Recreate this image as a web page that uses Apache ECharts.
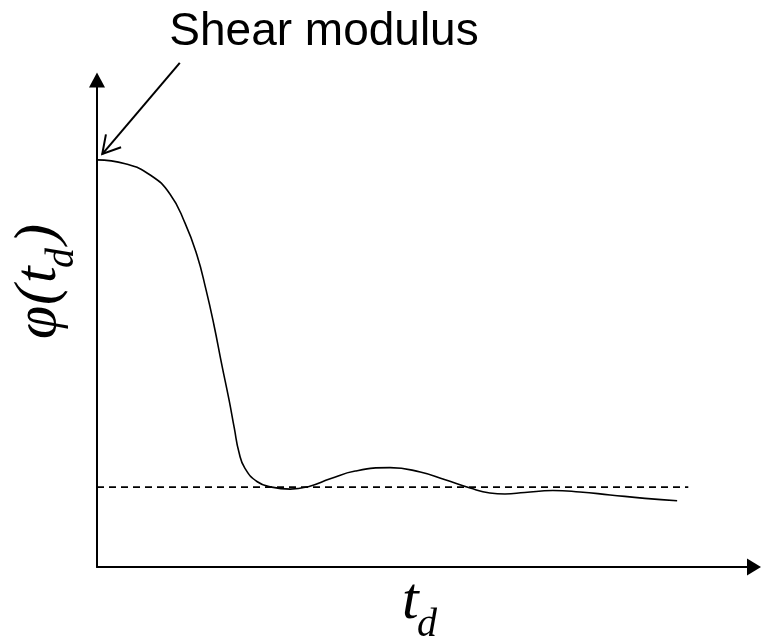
<!DOCTYPE html>
<html>
<head>
<meta charset="utf-8">
<script type="text/javascript" src="https://cdn.jsdelivr.net/npm/echarts@6/dist/echarts.min.js"></script>
<style type="text/css">
html, body {
    margin: 0;
    padding: 0;
    background: #fff;
}
#main {
    width: 761px;
    height: 639px;
}
</style>
</head>
<body>
<div id="main"></div>

<script type="text/javascript">
// t_d values (abscissa) and phi(t_d) values of the relaxation curve
var tValues = [0, 0.43, 0.81, 1.11, 1.34, 1.52, 1.66, 1.78, 1.90, 2.01, 2.09, 2.16, 2.25, 2.44, 2.66,
    2.94, 3.24, 3.55, 3.93, 4.46, 4.92, 5.30, 5.68, 5.98, 6.21, 6.51, 6.94, 7.35, 7.81, 8.34, 8.83];
var phiValues = [0.836, 0.828, 0.805, 0.766, 0.706, 0.641, 0.569, 0.497, 0.415, 0.343, 0.285, 0.236, 0.203, 0.175, 0.164,
    0.160, 0.166, 0.181, 0.197, 0.204, 0.195, 0.179, 0.162, 0.152, 0.150, 0.153, 0.157, 0.154, 0.148, 0.141, 0.136];

// horizontal dashed level
var plateauT = [0, 9.0];
var plateauPhi = 0.164;

// annotation: text and arrow (tail -> tip, data units)
var annotationText = 'Shear modulus';
var arrowTail = [1.26, 1.035];
var arrowTip = [0.08, 0.848];

var curveData = [];
for (var i = 0; i < tValues.length; i++) {
    curveData.push([tValues[i], phiValues[i]]);
}

var myChart = echarts.init(document.getElementById('main'));

var serif = '"Liberation Serif", "DejaVu Serif", serif';

option = {
    animation: false,
    backgroundColor: '#fff',
    grid: {
        left: 97,
        right: 7,
        top: 80,
        bottom: 72
    },
    xAxis: {
        type: 'value',
        min: 0,
        max: 10,
        axisLine: {
            show: true,
            symbol: ['none', 'triangle'],
            symbolSize: [17, 14],
            lineStyle: { color: '#000', width: 2 }
        },
        axisTick: { show: false },
        axisLabel: { show: false },
        splitLine: { show: false }
    },
    yAxis: {
        type: 'value',
        min: 0,
        max: 1,
        axisLine: {
            show: true,
            symbol: ['none', 'triangle'],
            symbolSize: [16, 15],
            lineStyle: { color: '#000', width: 2 }
        },
        axisTick: { show: false },
        axisLabel: { show: false },
        splitLine: { show: false }
    },
    series: [
        {
            name: 'phi',
            type: 'line',
            data: curveData,
            smooth: 0.5,
            showSymbol: false,
            lineStyle: { color: '#000', width: 1.6 }
        },
        {
            name: 'plateau',
            type: 'line',
            data: [[plateauT[0], plateauPhi], [plateauT[1], plateauPhi]],
            showSymbol: false,
            lineStyle: { color: '#000', width: 1.6, type: [7, 5] }
        }
    ]
};
myChart.setOption(option);

// annotation arrow, positioned from data coordinates
var tail = myChart.convertToPixel({ gridIndex: 0 }, arrowTail);
var tip = myChart.convertToPixel({ gridIndex: 0 }, arrowTip);
var ang = Math.atan2(tail[1] - tip[1], tail[0] - tip[0]);
var barbLen = 20, barbAng = 0.52;
var barb1 = [tip[0] + barbLen * Math.cos(ang - barbAng), tip[1] + barbLen * Math.sin(ang - barbAng)];
var barb2 = [tip[0] + barbLen * Math.cos(ang + barbAng), tip[1] + barbLen * Math.sin(ang + barbAng)];

var lineStyle = { stroke: '#000', lineWidth: 2, fill: null };

myChart.setOption({
    graphic: [
        {
            type: 'text',
            x: 324,
            y: 32,
            style: {
                text: annotationText,
                align: 'center',
                verticalAlign: 'middle',
                font: '46px "Liberation Sans", Arial, sans-serif',
                fill: '#000'
            }
        },
        {
            type: 'polyline',
            shape: { points: [tail, tip] },
            style: lineStyle
        },
        {
            type: 'polyline',
            shape: { points: [barb1, tip, barb2] },
            style: lineStyle
        },
        // x axis title  t_d
        {
            type: 'group',
            x: 402,
            y: 620,
            children: [
                { type: 'text', x: 0, y: -18, style: { text: 't', font: 'italic 60px ' + serif, fill: '#000', verticalAlign: 'middle' } },
                { type: 'text', x: 15, y: 5, style: { text: 'd', font: 'italic 40px ' + serif, fill: '#000', verticalAlign: 'middle' } }
            ]
        },
        // y axis title  phi(t_d), rotated
        {
            type: 'group',
            x: 57,
            y: 339,
            rotation: Math.PI / 2,
            children: [
                { type: 'text', x: 0, y: -18, style: { text: '\u03c6', font: 'italic 60px ' + serif, fill: '#000', verticalAlign: 'middle' } },
                { type: 'text', x: 34, y: -18, style: { text: '(', font: 'italic 60px ' + serif, fill: '#000', verticalAlign: 'middle' } },
                { type: 'text', x: 56, y: -18, style: { text: 't', font: 'italic 60px ' + serif, fill: '#000', verticalAlign: 'middle' } },
                { type: 'text', x: 71, y: 5, style: { text: 'd', font: 'italic 40px ' + serif, fill: '#000', verticalAlign: 'middle' } },
                { type: 'text', x: 95, y: -18, style: { text: ')', font: 'italic 60px ' + serif, fill: '#000', verticalAlign: 'middle' } }
            ]
        }
    ]
});
</script>
</body>
</html>
